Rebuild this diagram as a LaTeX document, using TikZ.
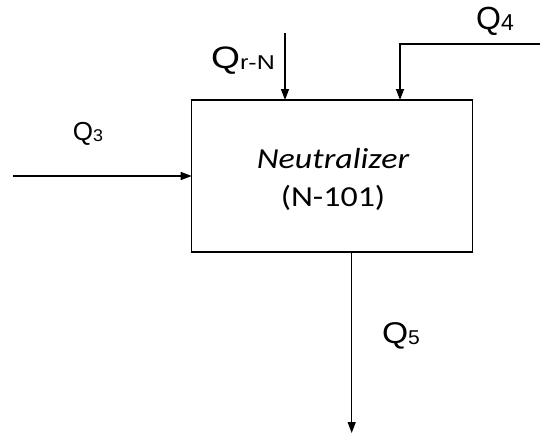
\documentclass[tikz,border=0pt]{standalone}
\usepackage{fontspec}
\setmainfont{Liberation Sans}
\newfontfamily\calfont{Carlito}
\usetikzlibrary{arrows.meta}
\tikzset{
  flow/.style={line width=1.4pt,-{Triangle[length=11pt,width=8pt]}},
  unit/.style={draw,line width=1.4pt,minimum width=281pt,minimum height=152pt,inner sep=0pt,align=center},
  qlab/.style={inner sep=0pt,anchor=center},
  unittext/.style={inner sep=0pt,xscale=1.17}
}
% #1 Q size, #2 Q xscale, #3 sub size, #4 sub xscale, #5 sub text
\newcommand{\qsym}[5]{\scalebox{#2}[1]{\fontsize{#1}{#1}\selectfont Q}\raisebox{-0.1em}{\scalebox{#4}[1]{\fontsize{#3}{#3}\selectfont #5}}}
\begin{document}
\begin{tikzpicture}[x=1pt,y=-1pt]
\useasboundingbox (0,0) rectangle (540,434);
\node[unit] (box) at (332.2,176) {};
\node[unittext] (t1) at (333,159) {\calfont\fontsize{29}{29}\selectfont\itshape Neutralizer};
\node[unittext] (t2) at (333,198) {\calfont\fontsize{29}{29}\selectfont (N-101)};
% coordinates
\coordinate (q3s) at (13,176);
\coordinate (q3e) at (191.7,176);
\coordinate (qrs) at (285,33);
\coordinate (qre) at (285,100);
\coordinate (q4s) at (540,44);
\coordinate (q4c) at (400,44);
\coordinate (q4e) at (400,100);
\coordinate (q5s) at (351.7,252);
\coordinate (q5e) at (351.7,433);
\draw[flow] (q3s) -- (q3e);
\draw[flow] (qrs) -- (qre);
\draw[flow] (q4s) -- (q4c) -- (q4e);
\draw[flow] (q5s) -- (q5e);
% labels
\node[qlab] (l3) at (88,134) {\qsym{26}{1.0}{17}{1.05}{3}};
\node[qlab] (lr) at (243,61) {\qsym{31}{1.2}{20}{1.25}{r-N}};
\node[qlab] (l4) at (495,21) {\qsym{32}{1.0}{23}{1.0}{4}};
\node[qlab] (l5) at (401,336) {\qsym{30}{1.12}{20}{1.05}{5}};
\end{tikzpicture}
\end{document}
